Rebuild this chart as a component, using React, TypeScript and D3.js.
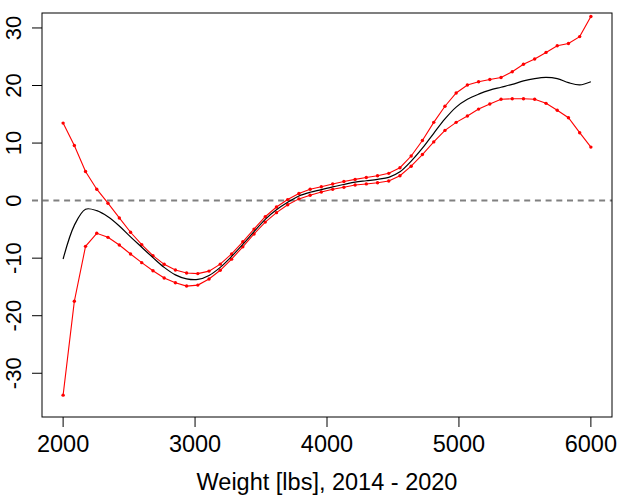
import React, { useEffect, useRef } from 'react';
import * as d3 from 'd3';

// weight grid (48 points between 2000 and 6000 lbs)
const weights = [
  2000, 2085, 2170, 2255, 2340, 2426, 2511, 2596, 2681, 2766, 2851, 2936,
  3021, 3106, 3191, 3277, 3362, 3447, 3532, 3617, 3702, 3787, 3872, 3957,
  4043, 4128, 4213, 4298, 4383, 4468, 4553, 4638, 4723, 4809, 4894, 4979,
  5064, 5149, 5234, 5319, 5404, 5489, 5574, 5660, 5745, 5830, 5915, 6000,
];

const upper = [
  13.47, 9.57, 5.05, 1.98, -0.45, -3.01, -5.5, -7.66, -9.57, -11.07, -12.06, -12.58,
  -12.68, -12.25, -11.04, -9.27, -7.16, -4.95, -2.8, -1.12, 0.18, 1.24, 1.98, 2.41,
  2.88, 3.31, 3.69, 4.01, 4.33, 4.74, 5.71, 7.75, 10.45, 13.6, 16.4, 18.7,
  20.1, 20.65, 21.05, 21.4, 22.4, 23.7, 24.6, 25.75, 26.9, 27.3, 28.5, 32.0,
];

const lower = [
  -33.8, -17.5, -7.95, -5.68, -6.38, -7.71, -9.27, -10.78, -12.18, -13.45, -14.27, -14.85,
  -14.68, -13.62, -12.11, -10.17, -8.03, -5.8, -3.73, -2.09, -0.73, 0.3, 0.94, 1.5,
  1.96, 2.33, 2.72, 2.9, 3.1, 3.4, 4.32, 5.98, 8.0, 10.2, 12.2, 13.6,
  14.7, 15.9, 16.8, 17.6, 17.7, 17.7, 17.6, 16.9, 15.7, 14.4, 11.8, 9.3,
];

const fit = [
  -10.15, -4.3, -1.5, -1.75, -2.8, -4.4, -6.3, -8.1, -9.9, -11.6, -12.9, -13.6,
  -13.7, -13.0, -11.6, -9.7, -7.6, -5.4, -3.25, -1.6, -0.3, 0.8, 1.45, 1.9,
  2.4, 2.8, 3.2, 3.45, 3.7, 4.05, 5.0, 6.85, 9.1, 11.7, 14.2, 16.25,
  17.6, 18.5, 19.2, 19.7, 20.2, 20.8, 21.2, 21.4, 21.2, 20.5, 20.1, 20.65,
];

const xTicks = [2000, 3000, 4000, 5000, 6000];
const yTicks = [-30, -20, -10, 0, 10, 20, 30];
const xLabel = 'Weight [lbs], 2014 - 2020';

const FONT = '"Liberation Sans", Arial, Helvetica, sans-serif';

const App: React.FC = () => {
  const svgRef = useRef<SVGSVGElement>(null);

  useEffect(() => {
    if (!svgRef.current) return;

    const width = 620;
    const height = 498;
    const box = { left: 42, right: 612, top: 13, bottom: 417 };

    const svg = d3.select(svgRef.current);
    svg.selectAll('*').remove();

    const x = d3.scaleLinear().domain([1840, 6160]).range([box.left, box.right]);
    const y = d3.scaleLinear().domain([-37.6, 32.6]).range([box.bottom, box.top]);

    svg.append('rect')
      .attr('width', width)
      .attr('height', height)
      .attr('fill', '#fff');

    // zero reference line
    svg.append('line')
      .attr('x1', 32)
      .attr('x2', box.right)
      .attr('y1', y(0))
      .attr('y2', y(0))
      .attr('stroke', '#808080')
      .attr('stroke-width', 2)
      .attr('stroke-dasharray', '6,4.7');

    const bandLine = (vals: number[]) =>
      d3.line<number>()
        .x((_, i) => x(weights[i]))
        .y(d => y(d))(vals) || '';

    // confidence bands
    [upper, lower].forEach(vals => {
      svg.append('path')
        .attr('d', bandLine(vals))
        .attr('fill', 'none')
        .attr('stroke', '#ff0000')
        .attr('stroke-width', 1.1);

      svg.append('g')
        .selectAll('circle')
        .data(vals)
        .join('circle')
        .attr('cx', (_, i) => x(weights[i]))
        .attr('cy', d => y(d))
        .attr('r', 1.7)
        .attr('fill', '#ff0000');
    });

    // fitted curve
    const fitLine = d3.line<number>()
      .x((_, i) => x(weights[i]))
      .y(d => y(d))
      .curve(d3.curveCatmullRom.alpha(0.5));

    svg.append('path')
      .attr('d', fitLine(fit) || '')
      .attr('fill', 'none')
      .attr('stroke', '#000')
      .attr('stroke-width', 1.2);

    // frame
    svg.append('rect')
      .attr('x', box.left)
      .attr('y', box.top)
      .attr('width', box.right - box.left)
      .attr('height', box.bottom - box.top)
      .attr('fill', 'none')
      .attr('stroke', '#000')
      .attr('stroke-width', 1);

    // x axis
    const gx = svg.append('g');
    gx.selectAll('line')
      .data(xTicks)
      .join('line')
      .attr('x1', d => x(d))
      .attr('x2', d => x(d))
      .attr('y1', box.bottom)
      .attr('y2', box.bottom + 10)
      .attr('stroke', '#000');
    gx.selectAll('text')
      .data(xTicks)
      .join('text')
      .attr('x', d => x(d))
      .attr('y', 452)
      .attr('text-anchor', 'middle')
      .attr('font-family', FONT)
      .attr('font-size', '23.5px')
      .attr('fill', '#000')
      .text(d => d);

    // y axis
    const gy = svg.append('g');
    gy.selectAll('line')
      .data(yTicks.filter(d => d !== 0))
      .join('line')
      .attr('x1', box.left - 10)
      .attr('x2', box.left)
      .attr('y1', d => y(d))
      .attr('y2', d => y(d))
      .attr('stroke', '#000');
    gy.selectAll('text')
      .data(yTicks)
      .join('text')
      .attr('transform', d => `translate(20.5,${y(d)}) rotate(-90)`)
      .attr('text-anchor', 'middle')
      .attr('font-family', FONT)
      .attr('font-size', '22px')
      .attr('fill', '#000')
      .text(d => d);

    svg.append('text')
      .attr('x', (box.left + box.right) / 2)
      .attr('y', 490)
      .attr('text-anchor', 'middle')
      .attr('font-family', FONT)
      .attr('font-size', '23.5px')
      .attr('fill', '#000')
      .text(xLabel);
  }, []);

  return (
    <svg
      ref={svgRef}
      width={620}
      height={498}
      viewBox="0 0 620 498"
      style={{ position: 'absolute', left: 0, top: 0, display: 'block' }}
    />
  );
};

export default App;
